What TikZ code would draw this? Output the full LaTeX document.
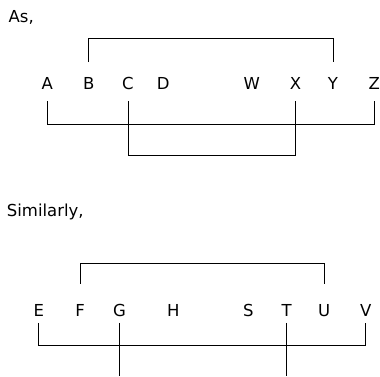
\documentclass[tikz,border=0pt]{standalone}
\usepackage{fontspec}
\newfontfamily\lettfont{DejaVu Sans}
\begin{document}
\begin{tikzpicture}[x=1pt,y=-1pt,
  lett/.style={font=\lettfont\fontsize{16.5}{18}\selectfont, inner sep=0pt, text height=12pt, text depth=0pt, anchor=center},
  caption/.style={font=\lettfont\fontsize{16.5}{18}\selectfont, inner sep=0pt, anchor=base west},
  link/.style={line width=1pt, draw=black}]
\useasboundingbox (0,0) rectangle (380,376);
% captions
\node[caption] (as) at (8.5,22.5) {As,};
\node[caption] (sim) at (6.7,216) {Similarly,};
% row 1
\node[lett] (A) at (47.3,83.3) {A};
\node[lett] (B) at (88.8,83.3) {B};
\node[lett] (C) at (128,83.3) {C};
\node[lett] (D) at (163.3,83.3) {D};
\node[lett] (W) at (251.7,83.3) {W};
\node[lett] (X) at (295.5,83.3) {X};
\node[lett] (Y) at (333,83.3) {Y};
\node[lett] (Z) at (374.2,83.3) {Z};
% row 2
\node[lett] (E) at (38.8,310) {E};
\node[lett] (F) at (80,310) {F};
\node[lett] (G) at (119.5,310) {G};
\node[lett] (H) at (173.3,310) {H};
\node[lett] (S) at (248.3,310) {S};
\node[lett] (T) at (286.7,310) {T};
\node[lett] (U) at (324.2,310) {U};
\node[lett] (V) at (365.7,310) {V};
% helper levels
\coordinate (t1) at (0,38.8);
\coordinate (b1) at (0,124.7);
\coordinate (b2) at (0,155.5);
\coordinate (t2) at (0,263.5);
\coordinate (b3) at (0,345.9);
\coordinate (bot) at (0,376);
% row 1 connectors
\draw[link] ([yshift=15pt]B.north) |- (t1 -| Y) -- ([yshift=15pt]Y.north);
\draw[link] ([yshift=-11.7pt]A.south) |- (b1 -| Z) -- ([yshift=-11.7pt]Z.south);
\draw[link] ([yshift=-11.7pt]C.south) |- (b2 -| X) -- ([yshift=-11.7pt]X.south);
% row 2 connectors
\draw[link] ([yshift=20pt]F.north) |- (t2 -| U) -- ([yshift=20pt]U.north);
\draw[link] ([yshift=-6.7pt]E.south) |- (b3 -| V) -- ([yshift=-6.7pt]V.south);
\draw[link] ([yshift=-6.7pt]G.south) -- (bot -| G);
\draw[link] ([yshift=-6.7pt]T.south) -- (bot -| T);
\end{tikzpicture}
\end{document}
